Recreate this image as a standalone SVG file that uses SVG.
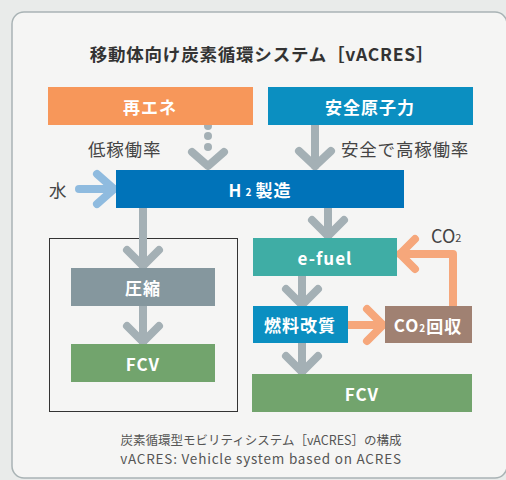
<svg xmlns="http://www.w3.org/2000/svg" width="506" height="480" viewBox="0 0 506 480">
<style>
.jp{font-family:"Noto Sans CJK JP","Noto Sans",sans-serif}
.bt{font-family:"Noto Sans CJK JP","Noto Sans",sans-serif;font-weight:bold;fill:#fff;font-size:17px;text-anchor:middle;dominant-baseline:central;letter-spacing:1px}
.lbl{font-family:"Noto Sans CJK JP","Noto Sans",sans-serif;fill:#444;font-size:17.5px;letter-spacing:0.8px;dominant-baseline:central}
.g{fill:none;stroke:#a4b0b5;stroke-width:8;stroke-linecap:round;stroke-linejoin:round}
.o{fill:none;stroke:#f6a77b;stroke-width:8;stroke-linecap:round;stroke-linejoin:round}
.b{fill:none;stroke:#8fbbdf;stroke-width:8;stroke-linecap:round;stroke-linejoin:round}
</style>
<rect x="0" y="0" width="506" height="480" fill="#e9ebea"/>
<rect x="12" y="12" width="495" height="466" rx="12" fill="#f5f5f4" stroke="#a9b3b5" stroke-width="1.5"/>
<text x="262" y="53" class="jp" font-size="17.5" font-weight="bold" fill="#333" text-anchor="middle" dominant-baseline="central" letter-spacing="0.8">移動体向け炭素循環システム［vACRES］</text>
<g id="frame"><rect x="49.5" y="238.5" width="188" height="173" fill="none" stroke="#333" stroke-width="1"/></g>
<g id="connectors">
<circle cx="208" cy="126" r="4" fill="#a4b0b5"/>
<circle cx="208" cy="136" r="4" fill="#a4b0b5"/>
<circle cx="208" cy="147" r="4" fill="#a4b0b5"/>
<polyline class="g" points="192,152 208,166 224,152"/>
<line class="g" x1="315" y1="125" x2="315" y2="166"/>
<polyline class="g" points="299,151 315,166 331,151"/>
<line class="b" x1="79" y1="189" x2="114" y2="189"/>
<polyline class="b" points="97,174 114,189 97,204"/>
<line class="g" x1="143" y1="208" x2="143" y2="266"/>
<polyline class="g" points="127,250 143,266 159,250"/>
<line class="g" x1="328" y1="208" x2="328" y2="236"/>
<polyline class="g" points="312,220 328,236 344,220"/>
<line class="g" x1="143" y1="306" x2="143" y2="342"/>
<polyline class="g" points="127,326 143,342 159,326"/>
<line class="g" x1="302" y1="276" x2="302" y2="305"/>
<polyline class="g" points="286,289 302,305 318,289"/>
<line class="g" x1="302" y1="343" x2="302" y2="372"/>
<polyline class="g" points="286,356 302,372 318,356"/>
<line class="o" x1="348" y1="325" x2="383" y2="325"/>
<polyline class="o" points="367,309 383,325 367,341"/>
<polyline class="o" points="453,306 453,254 400,254"/>
<polyline class="o" points="415,239 400,254 415,269"/>
</g>
<g id="n-renewable"><rect x="48" y="87" width="205" height="38" fill="#f7975a"/><text x="150" y="106" class="bt">再エネ</text></g>
<g id="n-nuclear"><rect x="268" y="87" width="205" height="38" fill="#0b8fc1"/><text x="370" y="106" class="bt">安全原子力</text></g>
<text x="88" y="148" class="lbl">低稼働率</text>
<text x="341" y="148" class="lbl">安全で高稼働率</text>
<text x="49" y="189" class="lbl">水</text>
<g id="n-h2"><rect x="116" y="170" width="288" height="38" fill="#0073b9"/><text x="260" y="189" class="bt">H<tspan font-size="10" dx="3" dy="2">2</tspan><tspan dx="3" dy="-2">製造</tspan></text></g>
<g id="n-compress"><rect x="71" y="268" width="144" height="38" fill="#85979e"/><text x="143" y="287" class="bt">圧縮</text></g>
<g id="n-fcv1"><rect x="71" y="344" width="144" height="38" fill="#72a46d"/><text x="143" y="363" class="bt">FCV</text></g>
<g id="n-efuel"><rect x="253" y="238" width="144" height="38" fill="#3fada5"/><text x="325" y="257" class="bt" letter-spacing="1.5">e-fuel</text></g>
<text x="431" y="235" class="jp" font-size="18" fill="#444" dominant-baseline="central">CO<tspan font-size="11" dy="2">2</tspan></text>
<g id="n-reform"><rect x="253" y="306" width="95" height="37" fill="#0b8fc1"/><text x="300" y="324.5" class="bt" letter-spacing="0">燃料改質</text></g>
<g id="n-co2"><rect x="385" y="306" width="87" height="37" fill="#a08172"/><text x="428" y="324.5" class="bt" letter-spacing="0">CO<tspan font-size="10" dy="2">2</tspan><tspan dy="-2">回収</tspan></text></g>
<g id="n-fcv2"><rect x="252" y="374" width="220" height="38" fill="#72a46d"/><text x="362" y="393" class="bt">FCV</text></g>
<text x="261" y="439" class="jp" font-size="12.5" fill="#555" text-anchor="middle" dominant-baseline="central">炭素循環型モビリティシステム［vACRES］の構成</text>
<text x="261" y="458" class="jp" font-size="13.5" fill="#555" text-anchor="middle" dominant-baseline="central" letter-spacing="0.8">vACRES: Vehicle system based on ACRES</text>
</svg>
